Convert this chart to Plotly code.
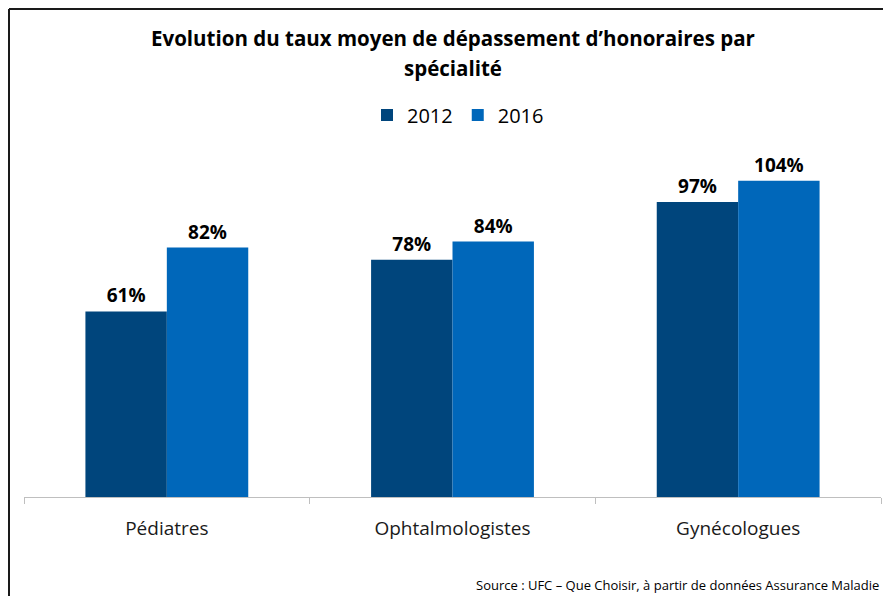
import plotly.graph_objects as go

categories = ["Pédiatres", "Ophtalmologistes", "Gynécologues"]
years = ["2012", "2016"]
values_2012 = [61, 78, 97]
values_2016 = [82, 84, 104]
colors = {"2012": "#00457C", "2016": "#0067BA"}

title_lines = ["Evolution du taux moyen de dépassement d’honoraires par", "spécialité"]
source_text = "Source : UFC – Que Choisir, à partir de données Assurance Maladie"

font_family = "Open Sans, Liberation Sans, sans-serif"

fig = go.Figure()
for yr, vals in zip(years, [values_2012, values_2016]):
    fig.add_trace(go.Bar(
        x=categories, y=vals, name=yr,
        marker=dict(color=colors[yr], line=dict(width=0)),
        texttemplate="<b>%{y}%</b>", textposition="outside",
        textfont=dict(size=19, color="#000000", family=font_family),
        cliponaxis=False,
    ))

W, H = 883, 596
ml, mr, mt, mb = 24, 2, 132, 99
pw, ph = W - ml - mr, H - mt - mb

def px_x(x):
    return (x - ml) / pw

def px_y(y):
    return (H - mb - y) / ph

fig.update_layout(
    width=W, height=H,
    margin=dict(l=ml, r=mr, t=mt, b=mb, autoexpand=False),
    paper_bgcolor="white", plot_bgcolor="white",
    barmode="group", bargap=0.43, bargroupgap=0,
    font=dict(family=font_family, color="#000000"),
    legend=dict(orientation="h", x=px_x(458), xanchor="center",
                y=px_y(115), yanchor="middle",
                font=dict(size=20, color="#000000"),
                itemsizing="constant", traceorder="normal",
                bgcolor="rgba(0,0,0,0)"),
    showlegend=True,
    xaxis=dict(showline=True, linecolor="#BFBFBF", linewidth=1,
               ticks="outside", tickson="boundaries", ticklen=6,
               tickcolor="#BFBFBF", showgrid=False,
               tickfont=dict(size=19, color="#1a1a1a"),
               ticklabelstandoff=14),
    yaxis=dict(range=[0, 120], visible=False, showgrid=False, zeroline=False),
)

for line, ypx in zip(title_lines, [38, 68]):
    fig.add_annotation(text="<b>" + line + "</b>", xref="paper", yref="paper",
                       x=px_x(453), y=px_y(ypx), xanchor="center", yanchor="middle",
                       showarrow=False,
                       font=dict(size=20.5, color="#000000", family=font_family))

fig.add_shape(type="line", xref="paper", yref="paper",
              x0=px_x(9), x1=px_x(9), y0=px_y(9), y1=px_y(620),
              line=dict(color="#1a1a1a", width=2))
fig.add_shape(type="line", xref="paper", yref="paper",
              x0=px_x(9), x1=px_x(900), y0=px_y(9), y1=px_y(9),
              line=dict(color="#1a1a1a", width=2))

fig.add_annotation(text=source_text, xref="paper", yref="paper",
                   x=px_x(474), y=px_y(585), xanchor="left", yanchor="middle",
                   showarrow=False, font=dict(size=13, color="#000000"))

fig.write_html("out.html")
